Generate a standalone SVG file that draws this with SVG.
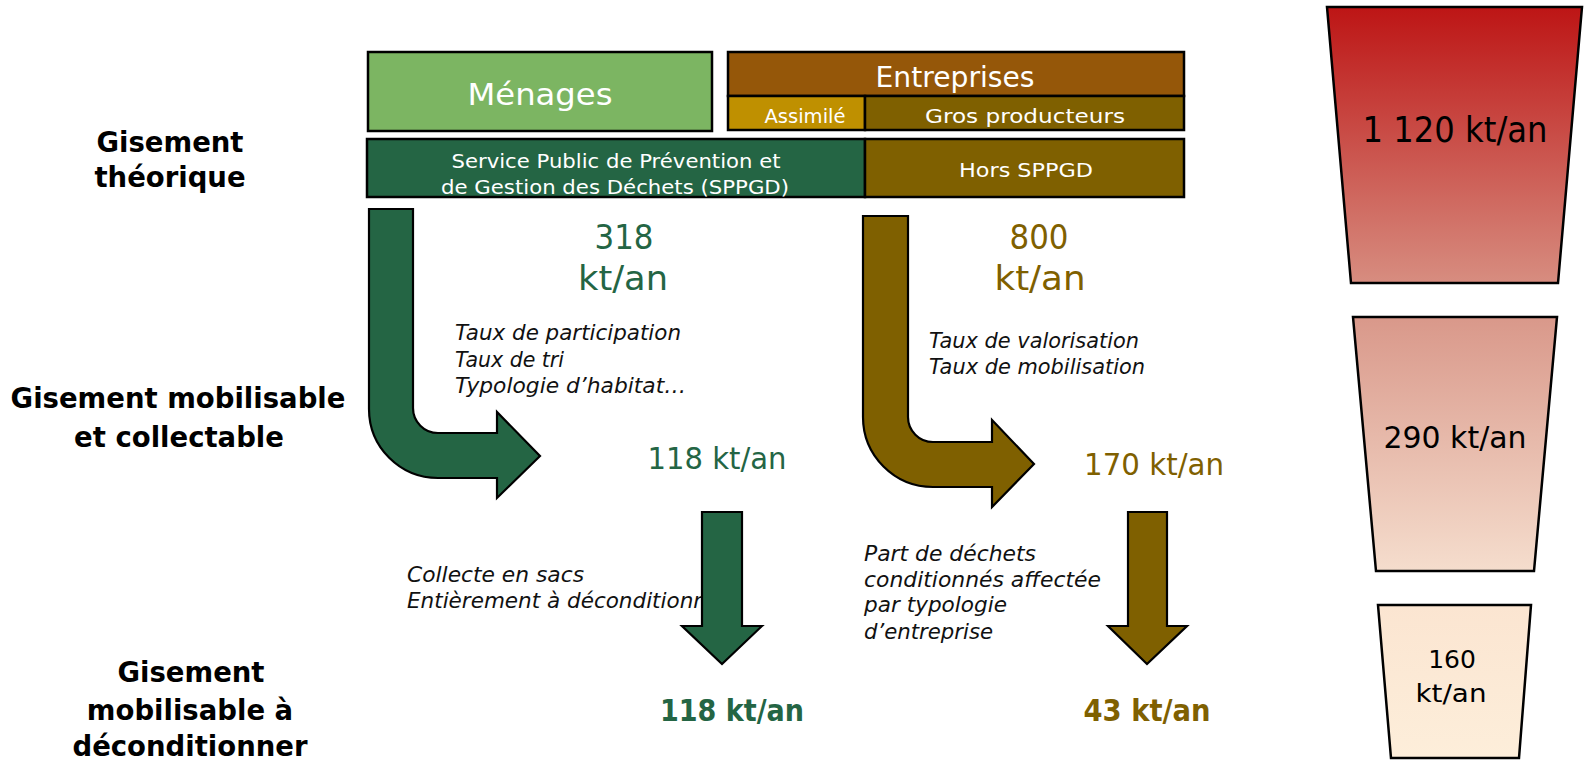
<svg xmlns="http://www.w3.org/2000/svg" width="1585" height="763" viewBox="0 0 1585 763">
<style>
.lbl{font-family:"DejaVu Sans","Liberation Sans",sans-serif;font-weight:bold;font-size:27.5px;fill:#000;text-anchor:middle}
.box{stroke:#000;stroke-width:2.5}
.wt{font-family:"DejaVu Sans","Liberation Sans",sans-serif;fill:#fff;text-anchor:middle}
.it{font-family:"DejaVu Sans","Liberation Sans",sans-serif;font-style:italic;font-size:21px;fill:#111}
.val{font-family:"DejaVu Sans","Liberation Sans",sans-serif;text-anchor:middle}
.g{fill:#246544}
.b{fill:#7f6000}
.bold{font-weight:bold}
.trap{stroke:#000;stroke-width:2.5}
.tv{font-family:"DejaVu Sans","Liberation Sans",sans-serif;fill:#000;text-anchor:middle}
.arr{stroke:#000;stroke-width:2.2;stroke-linejoin:miter}
</style>
<defs>
<linearGradient id="gr1" x1="0" y1="0" x2="0" y2="1"><stop offset="0" stop-color="#bd1515"/><stop offset="1" stop-color="#d78d80"/></linearGradient>
<linearGradient id="gr2" x1="0" y1="0" x2="0" y2="1"><stop offset="0" stop-color="#d9988a"/><stop offset="1" stop-color="#f5ddcd"/></linearGradient>
<linearGradient id="gr3" x1="0" y1="0" x2="0" y2="1"><stop offset="0" stop-color="#fbe5d1"/><stop offset="1" stop-color="#fdeeda"/></linearGradient>
</defs>
<rect width="1585" height="763" fill="#fff"/>

<g id="label-theorique">
<text class="lbl" x="170" y="152">Gisement</text>
<text class="lbl" x="170" y="187">théorique</text>
</g>
<g id="label-mobilisable">
<text class="lbl" x="178" y="408">Gisement mobilisable</text>
<text class="lbl" x="179" y="447">et collectable</text>
</g>
<g id="label-deconditionner">
<text class="lbl" x="191" y="682">Gisement</text>
<text class="lbl" x="190" y="720">mobilisable à</text>
<text class="lbl" x="190" y="756">déconditionner</text>
</g>

<g id="menages">
<rect class="box" x="368" y="52" width="344" height="79" fill="#7cb562"/>
<text class="wt" x="540" y="105" font-size="31" textLength="145" lengthAdjust="spacingAndGlyphs">Ménages</text>
</g>
<g id="entreprises">
<rect class="box" x="728" y="52" width="456" height="44" fill="#955709"/>
<text class="wt" x="955" y="87" font-size="28" textLength="159" lengthAdjust="spacingAndGlyphs">Entreprises</text>
</g>
<g id="assimiles">
<rect class="box" x="728" y="96" width="137" height="34" fill="#bf9000"/>
<text class="wt" x="805" y="123" font-size="19" textLength="81" lengthAdjust="spacingAndGlyphs">Assimilé</text>
<text class="wt" x="805" y="149" font-size="14">s</text>
</g>
<g id="gros-producteurs">
<rect class="box" x="865" y="96" width="319" height="34" fill="#7f6000"/>
<text class="wt" x="1025" y="123" font-size="20" textLength="200" lengthAdjust="spacingAndGlyphs">Gros producteurs</text>
</g>
<g id="sppgd">
<rect class="box" x="367" y="139" width="498" height="58" fill="#246544"/>
<text class="wt" x="616" y="168" font-size="19.5" textLength="329" lengthAdjust="spacingAndGlyphs">Service Public de Prévention et</text>
<text class="wt" x="615" y="194" font-size="19.5" textLength="348" lengthAdjust="spacingAndGlyphs">de Gestion des Déchets (SPPGD)</text>
</g>
<g id="hors-sppgd">
<rect class="box" x="865" y="139" width="319" height="58" fill="#7f6000"/>
<text class="wt" x="1026" y="177" font-size="20" textLength="134" lengthAdjust="spacingAndGlyphs">Hors SPPGD</text>
</g>

<g id="val-318">
<text class="val g" x="624" y="249" font-size="34" textLength="59" lengthAdjust="spacingAndGlyphs">318</text>
<text class="val g" x="623" y="290" font-size="34" textLength="90" lengthAdjust="spacingAndGlyphs">kt/an</text>
</g>
<g id="val-800">
<text class="val b" x="1039" y="249" font-size="34" textLength="59" lengthAdjust="spacingAndGlyphs">800</text>
<text class="val b" x="1040" y="290" font-size="34" textLength="91" lengthAdjust="spacingAndGlyphs">kt/an</text>
</g>

<g id="crit-menages">
<text class="it" x="455" y="340" textLength="226" lengthAdjust="spacingAndGlyphs">Taux de participation</text>
<text class="it" x="455" y="367" textLength="109" lengthAdjust="spacingAndGlyphs">Taux de tri</text>
<text class="it" x="455" y="393" textLength="231" lengthAdjust="spacingAndGlyphs">Typologie d’habitat…</text>
</g>
<g id="crit-entreprises">
<text class="it" x="929" y="348" textLength="210" lengthAdjust="spacingAndGlyphs">Taux de valorisation</text>
<text class="it" x="929" y="374" textLength="216" lengthAdjust="spacingAndGlyphs">Taux de mobilisation</text>
</g>

<g id="val-118">
<text class="val g" x="717" y="469" font-size="30" textLength="139" lengthAdjust="spacingAndGlyphs">118 kt/an</text>
</g>
<g id="val-170">
<text class="val b" x="1154" y="475" font-size="30" textLength="140" lengthAdjust="spacingAndGlyphs">170 kt/an</text>
</g>

<g id="crit-sacs">
<text class="it" x="407" y="582" textLength="177" lengthAdjust="spacingAndGlyphs">Collecte en sacs</text>
<text class="it" x="407" y="608" textLength="322" lengthAdjust="spacingAndGlyphs">Entièrement à déconditionner</text>
</g>
<g id="crit-part">
<text class="it" x="864" y="561" textLength="172" lengthAdjust="spacingAndGlyphs">Part de déchets</text>
<text class="it" x="864" y="587" textLength="237" lengthAdjust="spacingAndGlyphs">conditionnés affectée</text>
<text class="it" x="864" y="612" textLength="143" lengthAdjust="spacingAndGlyphs">par typologie</text>
<text class="it" x="864" y="639" textLength="129" lengthAdjust="spacingAndGlyphs">d’entreprise</text>
</g>

<g id="val-118-bold">
<text class="val g bold" x="732" y="721" font-size="30" textLength="144" lengthAdjust="spacingAndGlyphs">118 kt/an</text>
</g>
<g id="val-43-bold">
<text class="val b bold" x="1147" y="721" font-size="30" textLength="127" lengthAdjust="spacingAndGlyphs">43 kt/an</text>
</g>

<g id="trap-1120">
<polygon class="trap" points="1327,7 1582,7 1558,283 1351,283" fill="url(#gr1)"/>
<text class="tv" x="1455" y="142" font-size="35" textLength="185" lengthAdjust="spacingAndGlyphs">1 120 kt/an</text>
</g>
<g id="trap-290">
<polygon class="trap" points="1353,317 1557,317 1534,571 1376,571" fill="url(#gr2)"/>
<text class="tv" x="1455" y="448" font-size="30" textLength="143" lengthAdjust="spacingAndGlyphs">290 kt/an</text>
</g>
<g id="trap-160">
<polygon class="trap" points="1378,605 1531,605 1519,758 1391,758" fill="url(#gr3)"/>
<text class="tv" x="1452" y="668" font-size="25">160</text>
<text class="tv" x="1451" y="702" font-size="25" textLength="71" lengthAdjust="spacingAndGlyphs">kt/an</text>
</g>

<g id="connectors">
<path class="arr" fill="#246544" d="M369,209 L413,209 L413,408 A25,25 0 0 0 438,433 L497,433 L497,412 L540,456 L497,498 L497,478 L438,478 A69,69 0 0 1 369,409 Z"/>
<path class="arr" fill="#7f6000" d="M863,216 L908,216 L908,417 A25,25 0 0 0 933,442 L992,442 L992,420 L1034,464 L992,507 L992,487 L933,487 A70,70 0 0 1 863,417 Z"/>
<path class="arr" fill="#246544" d="M702,512 L742,512 L742,626 L762,626 L722,664 L682,626 L702,626 Z"/>
<path class="arr" fill="#7f6000" d="M1128,512 L1167,512 L1167,626 L1187,626 L1147,664 L1108,626 L1128,626 Z"/>
</g>
</svg>
